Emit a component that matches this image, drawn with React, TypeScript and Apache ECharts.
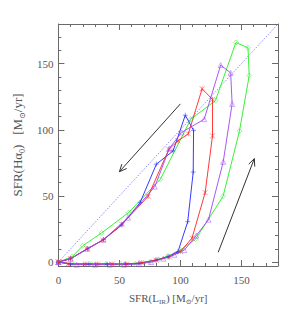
import React, { useEffect, useRef } from 'react';
import * as echarts from 'echarts';

const xTickLabels = [0, 50, 100, 150];
const yTickLabels = [0, 50, 100, 150];
const minorTicks = [10, 20, 30, 40, 60, 70, 80, 90, 110, 120, 130, 140, 160, 170];

const diagonal = [[0, 0], [180, 180]];

const greenLoop = [
  [0, 0], [12, -1.5], [27, -1.5], [39, -1.5], [51, -1.5], [63, -1.5], [75, 0], [82, 2], [90, 4.6], [100, 9],
  [112.5, 17.3], [135, 49.7], [148.4, 99], [156.4, 141], [155.4, 162], [145.5, 166], [128.7, 122],
  [108.5, 108], [83.5, 62.5], [57.3, 37.2], [35.4, 22], [20, 12.3], [11.4, 4.2], [0, 0],
];
const blueLoop = [
  [0, 0], [10, -1.5], [25, -1.5], [40, -1.5], [55, -1.5], [66, -1], [80, 1.5], [90, 4], [98, 7.8],
  [106, 30.5], [110.5, 68], [110.8, 99.5], [104, 111], [94, 84], [80.3, 74], [67, 45], [52, 28],
  [37, 17], [24, 10], [10, 2.5], [0, 0],
];
const redLoop = [
  [0, 0], [8, -1.5], [22, -1.5], [32, -1.5], [44, -1.5], [56, -1.5], [68, -0.5], [80, 1.5], [91, 3.8],
  [100, 8], [109.5, 18], [120.3, 52.5], [126.3, 95.4], [126.3, 123], [117.8, 131], [106.5, 97],
  [98, 91.6], [90.5, 85.2], [73.5, 49.6], [52, 28.5], [36.5, 16.5], [23.5, 10], [10, 2.5], [0, 0],
];
const purpleLoop = [
  [0, 0], [15, -2], [30, -2], [42, -2], [54, -2], [66, -1.5], [76, 0], [86, 2.5], [95, 5.5], [103.2, 9],
  [113, 20], [123, 32], [135.1, 75.8], [142.4, 119.6], [141.2, 143], [133, 148.9], [119.5, 108],
  [101, 98], [91, 86], [79, 57], [57, 33.5], [37, 17], [23.5, 10], [10, 2.5], [0, 0],
];
const arrows = [
  [100, 119.6, 50, 68.3],
  [131, 7.4, 160.6, 78.2],
];

const FRAME = '#6a6a6a';
const TEXT = '#555555';
const FONT = "'Liberation Serif', 'DejaVu Serif', serif";

const plusSym = 'path://M5,0L5,10M0,5L10,5';
const starSym = 'path://M0,0L10,10M10,0L0,10M5,0L5,10';
const triSym = 'path://M5,0L10,9L0,9Z';
const diaSym = 'path://M5,0L10,5L5,10L0,5Z';

function loopSeries(data: number[][], color: string, symbol: string, size: number) {
  return {
    type: 'line',
    data,
    symbol,
    symbolSize: size,
    showSymbol: true,
    showAllSymbol: true,
    lineStyle: { color, width: 0.9 },
    itemStyle: { color: 'transparent', borderColor: color, borderWidth: 0.6, opacity: 0.8 },
    silent: true,
    z: 3,
  };
}

export default function App() {
  const ref = useRef<HTMLDivElement>(null);
  useEffect(() => {
    if (!ref.current) return;
    const chart = echarts.init(ref.current, undefined, { renderer: 'svg' });
    const xCommon = { type: 'value', min: 0, max: 180, splitLine: { show: false } };
    const yCommon = { type: 'value', min: -3, max: 180, splitLine: { show: false } };
    const line = (show: boolean) => ({ show, onZero: false, lineStyle: { color: FRAME, width: 1 } });
    const tick = (vals: number[], len: number) => ({
      show: true, inside: true, length: len, customValues: vals, lineStyle: { color: FRAME, width: 1 },
    });
    const noLabel = { show: false };
    const labelStyle = { fontFamily: FONT, fontSize: 11, color: TEXT };
    const rich = {
      s: { fontFamily: FONT, fontSize: 7, color: TEXT, verticalAlign: 'bottom', lineHeight: 8 },
    };
    chart.setOption({
      animation: false,
      grid: { left: 54, top: 24, width: 224, height: 242, show: false },
      xAxis: [
        {
          ...xCommon, position: 'bottom', axisLine: line(true), axisTick: tick(xTickLabels, 6),
          axisLabel: { ...labelStyle, customValues: xTickLabels, margin: 8 },
          name: 'SFR(L{s|IR}) [M{s|⊙}/yr]', nameLocation: 'middle', nameGap: 23,
          nameTextStyle: { fontFamily: FONT, fontSize: 11, color: TEXT, lineHeight: 16, rich },
        },
        { ...xCommon, position: 'bottom', axisLine: line(false), axisTick: tick(minorTicks, 3), axisLabel: noLabel },
        { ...xCommon, position: 'top', axisLine: line(true), axisTick: tick(xTickLabels, 6), axisLabel: noLabel },
        { ...xCommon, position: 'top', axisLine: line(false), axisTick: tick(minorTicks, 3), axisLabel: noLabel },
      ],
      yAxis: [
        {
          ...yCommon, position: 'left', axisLine: line(true), axisTick: tick(yTickLabels, 6),
          axisLabel: { ...labelStyle, customValues: yTickLabels, margin: 5 },
          name: 'SFR(Hα{s|0})   [M{s|⊙}/yr]', nameLocation: 'middle', nameGap: 25,
          nameTextStyle: { fontFamily: FONT, fontSize: 13, color: TEXT, lineHeight: 18, rich: {
            s: { fontFamily: FONT, fontSize: 8, color: TEXT, verticalAlign: 'bottom', lineHeight: 9 },
          } },
        },
        { ...yCommon, position: 'left', axisLine: line(false), axisTick: tick(minorTicks, 3), axisLabel: noLabel },
        { ...yCommon, position: 'right', axisLine: line(true), axisTick: tick(yTickLabels, 6), axisLabel: noLabel },
        { ...yCommon, position: 'right', axisLine: line(false), axisTick: tick(minorTicks, 3), axisLabel: noLabel },
      ],
      series: [
        {
          type: 'line', data: diagonal, showSymbol: false, silent: true, z: 2,
          lineStyle: { color: '#7070ff', width: 0.8, type: [1.5, 1.5] },
        },
        loopSeries(greenLoop, '#22ee22', diaSym, 5),
        loopSeries(blueLoop, '#2222ff', plusSym, 5),
        loopSeries(redLoop, '#ff2222', starSym, 5),
        loopSeries(purpleLoop, '#a044f4', triSym, 5),
        {
          type: 'custom', data: arrows, silent: true, z: 4,
          encode: { x: [0, 2], y: [1, 3] },
          renderItem: (params: any, api: any) => {
            const a = api.coord([api.value(0), api.value(1)]);
            const b = api.coord([api.value(2), api.value(3)]);
            const ang = Math.atan2(b[1] - a[1], b[0] - a[0]);
            const L = 8, w = 0.42;
            const h1 = [b[0] - L * Math.cos(ang - w), b[1] - L * Math.sin(ang - w)];
            const h2 = [b[0] - L * Math.cos(ang + w), b[1] - L * Math.sin(ang + w)];
            return {
              type: 'group',
              children: [
                { type: 'line', shape: { x1: a[0], y1: a[1], x2: b[0], y2: b[1] }, style: { stroke: '#333', lineWidth: 1 } },
                { type: 'polyline', shape: { points: [h1, b, h2] }, style: { stroke: '#333', lineWidth: 1, fill: 'none' } },
              ],
            };
          },
        },
      ],
    });
    return () => chart.dispose();
  }, []);
  return <div ref={ref} style={{ position: 'fixed', left: 0, top: 0, width: 294, height: 316, background: '#fff' }} />;
}
